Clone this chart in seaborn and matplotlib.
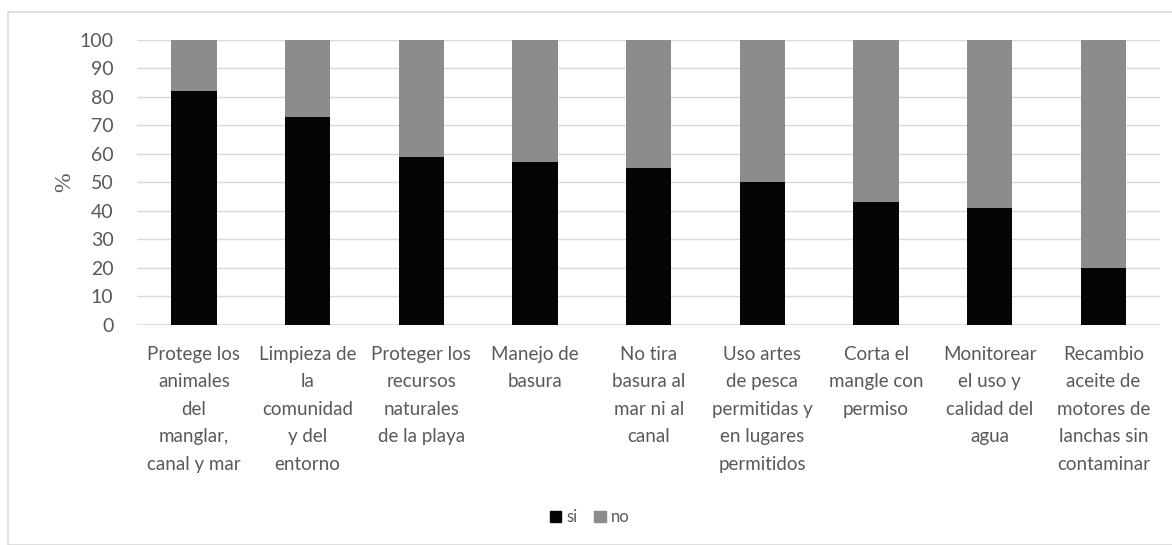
import numpy as np
import pandas as pd
import seaborn as sns
import matplotlib.pyplot as plt
from matplotlib.patches import Patch, Rectangle

labels = [
    "Protege los\nanimales\ndel\nmanglar,\ncanal y mar",
    "Limpieza de\nla\ncomunidad\ny del\nentorno",
    "Proteger los\nrecursos\nnaturales\nde la playa",
    "Manejo de\nbasura",
    "No tira\nbasura al\nmar ni al\ncanal",
    "Uso artes\nde pesca\npermitidas y\nen lugares\npermitidos",
    "Corta el\nmangle con\npermiso",
    "Monitorear\nel uso y\ncalidad del\nagua",
    "Recambio\naceite de\nmotores de\nlanchas sin\ncontaminar",
]
si = [82, 73, 59, 57, 55, 50, 43, 41, 20]
no = [18, 27, 41, 43, 45, 50, 57, 59, 80]

df = pd.DataFrame({"cat": labels, "si": si, "no": no})
df["total"] = df["si"] + df["no"]

sns.set_style("white")
plt.rcParams['font.family'] = ['Lato', 'DejaVu Sans']
txt = "#595959"

fig = plt.figure(figsize=(11.72, 5.45), dpi=100)
ax = fig.add_axes([0.117, 0.404, 0.873, 0.523])

sns.barplot(data=df, x="cat", y="total", color="#8c8c8c", width=0.4,
            saturation=1, linewidth=0, ax=ax, zorder=2)
sns.barplot(data=df, x="cat", y="si", color="#050505", width=0.4,
            saturation=1, linewidth=0, ax=ax, zorder=3)

ax.set_ylim(0, 100)
ax.set_xlim(-0.5, 8.5)
ax.set_yticks(range(0, 101, 10))
ax.yaxis.grid(True, color="#d9d9d9", linewidth=1, zorder=0)
ax.set_axisbelow(True)
for s in ax.spines.values():
    s.set_visible(False)
ax.axhline(0, color="#d9d9d9", linewidth=1.2, zorder=1)
ax.tick_params(axis="both", length=0, colors=txt)
ax.tick_params(axis="y", pad=17, labelsize=14)
ax.tick_params(axis="x", pad=15, labelsize=13.5)
for t in ax.get_xticklabels():
    t.set_linespacing(1.75)
ax.set_xlabel("")
ax.set_ylabel("%", color=txt, fontsize=17, labelpad=3, family="Liberation Serif")

handles = [Patch(color="#050505", label="si"), Patch(color="#8c8c8c", label="no")]
fig.legend(handles=handles, loc="center", bbox_to_anchor=(0.503, 0.051), ncol=2,
           frameon=False, fontsize=12, handlelength=0.7, handleheight=0.7,
           handletextpad=0.3, columnspacing=1.0, labelcolor=txt)

fig.patches.append(Rectangle((8 / 1172, 0.0), 1.2, 1 - 12 / 545, transform=fig.transFigure,
                             fill=False, edgecolor="#d9d9d9", linewidth=1.2))

fig.savefig("out.png", dpi=100)
